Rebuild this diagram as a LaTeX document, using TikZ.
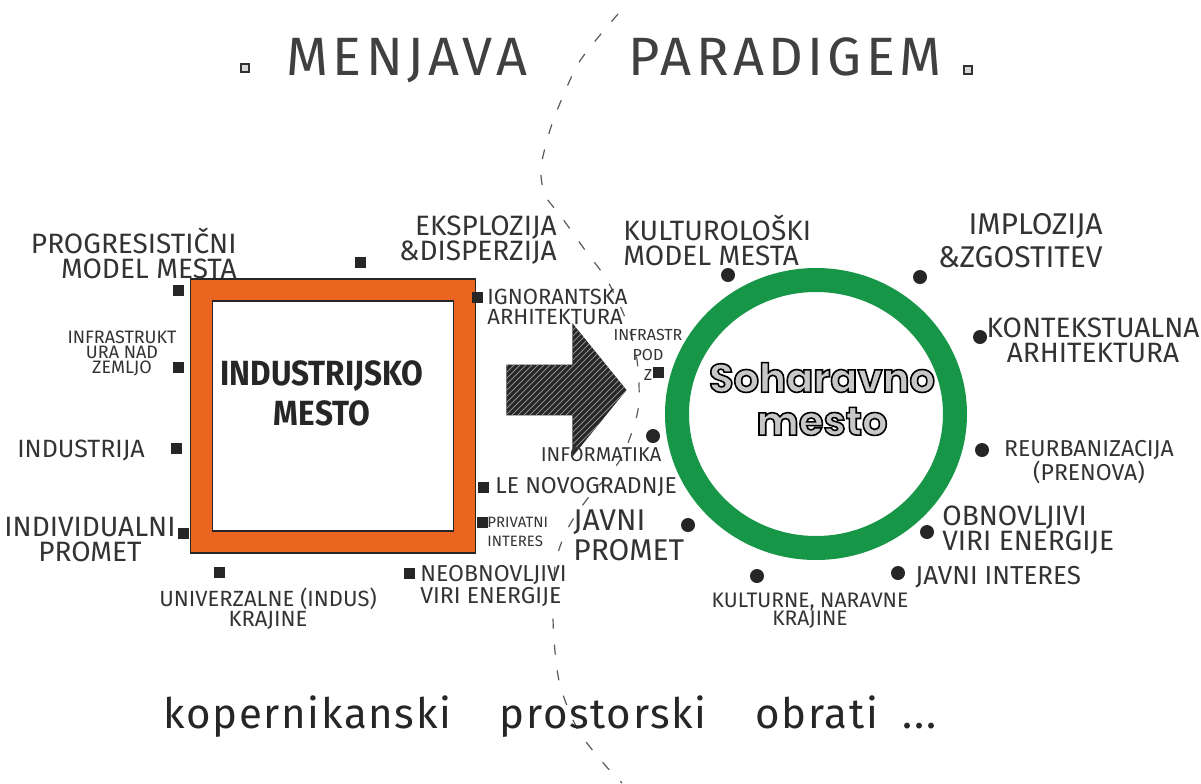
\documentclass[tikz,border=0pt]{standalone}
\usepackage{fontspec}
\setmainfont{Fira Sans}
\newfontfamily\titlefont[LetterSpace=8]{Fira Sans}
\newfontfamily\mottofont[LetterSpace=4]{Fira Sans}
\newfontfamily\indfont[FakeStretch=0.9]{Fira Sans}
\newfontfamily\roundfont{Poppins}
\usetikzlibrary{shapes.arrows,shapes.geometric,patterns}
\definecolor{boxorange}{RGB}{233,101,32}
\definecolor{ringgreen}{RGB}{24,150,72}
\tikzstyle{sqbul}=[fill=black!85, minimum size=5.5pt, inner sep=0pt]
\tikzstyle{dotbul}=[circle, fill=black!85, minimum size=7pt, inner sep=0pt]
\tikzstyle{ttlsq}=[draw=black!80, fill=black!15, line width=0.6pt,
	minimum size=4pt, inner sep=0pt]
\tikzstyle{lblL}=[inner sep=0pt, text=black!80, font=\fontsize{14}{12.5}\selectfont]
\tikzstyle{lblM}=[inner sep=0pt, text=black!80, font=\fontsize{11}{10}\selectfont]
\tikzstyle{lblS}=[inner sep=0pt, text=black!80, font=\fontsize{8}{8}\selectfont]
\tikzstyle{ttl}=[inner sep=0pt, anchor=base, text=black!75,
	font=\titlefont\fontsize{27}{27}\selectfont]
\tikzstyle{dashcurve}=[draw=black!65, line width=0.6pt, dash pattern=on 5pt off 8pt]
\tikzstyle{indframe}=[rectangle, draw=black!85, line width=0.6pt, double=boxorange,
	double distance=10.4pt, minimum width=131.75pt, minimum height=126pt, inner sep=0pt]
\tikzstyle{indtext}=[align=center, inner sep=0pt, text=black!85,
	font=\indfont\bfseries\fontsize{17.5}{20}\selectfont]
\tikzstyle{ring}=[ellipse, draw=ringgreen, line width=12pt, minimum width=139pt,
	minimum height=134pt, inner sep=0pt]
\tikzstyle{sontext}=[align=center, inner sep=0pt, text=black!22,
	font=\roundfont\bfseries\fontsize{20}{21.5}\selectfont]
\tikzstyle{bigarrow}=[single arrow, fill=black!85, inner xsep=0pt, inner ysep=12.5pt,
	minimum height=60pt, single arrow head extend=20.75pt, single arrow tip angle=102,
	postaction={pattern=north east lines, pattern color=black!45}]
\tikzstyle{motto}=[inner sep=0pt, anchor=base, text=black!85,
	font=\mottofont\fontsize{21}{21}\selectfont]
\newcommand{\sqAt}[2]{node (b#1) [sqbul] at #2 {}}
\newcommand{\dotAt}[2]{node (b#1) [dotbul] at #2 {}}
\newcommand{\outlinetext}[1]{\special{pdf:literal direct 2 Tr 0.8 w 0 G}#1%
	\special{pdf:literal direct 0 Tr}}

\begin{document}
\begin{tikzpicture}[x=0.5pt,y=-0.5pt]
	\useasboundingbox (0,0) rectangle (1201,783);

	% Dashed dividing line
	\draw[dashcurve] plot[smooth] coordinates {(618,14) (596,40) (578,64) (563,96)
		(550,130) (541,168) (545,195) (560,215) (585,250) (607,280) (626,320)
		(637,360) (638,410) (620,460) (588,498) (568,528) (556,560) (553,600)
		(554,640) (560,685) (578,730) (605,765) (622,783)};

	% Title
	\path node (t1) [ttl] at (407,75) {MENJAVA};
	\path node (t2) [ttl] at (785,75) {PARADIGEM};
	\path node (tq1) [ttlsq] at (245,68) {};
	\path node (tq2) [ttlsq] at (968,70) {};

	% Both cities and the arrow
	\path node (ind) [indframe] at (333,416) {};
	\path (ind)+(-11,-23) node (indt) [indtext] {INDUSTRIJSKO\\MESTO};
	\path node (son) [ring] at (816,414) {};
	\path (son)+(6,-15) node (sont) [sontext] {\outlinetext{Soharavno\\mesto}};
	\path node (arr) [bigarrow, anchor=tip] at (627,390) {};

	% Left bullets
	\path \sqAt{prog}{(178,290)};
	\path \sqAt{infra}{(178,367)};
	\path \sqAt{ind}{(176,448)};
	\path \sqAt{indiv}{(183,533)};
	\path \sqAt{univ}{(219,572)};
	\path \sqAt{eks}{(360,262)};
	\path \sqAt{ign}{(477,297)};
	\path \sqAt{novo}{(483,487)};
	\path \sqAt{priv}{(482,522)};
	\path \sqAt{neob}{(409,573)};

	\path (bprog)+(59,-37) node (lprog) [lblL, anchor=east, align=right]
		{PROGRESISTIČNI\\MODEL MESTA};
	\path (binfra)+(-56,-14) node (linfra) [lblS, align=center,
		font=\fontsize{9}{7.5}\selectfont] {INFRASTRUKT\\URA NAD\\ZEMLJO};
	\path (bind)+(-95,2) node (lind) [lblM, font=\fontsize{12.5}{12}\selectfont] {INDUSTRIJA};
	\path (bindiv)+(-93,7) node (lindiv) [lblL, align=center] {INDIVIDUALNI\\PROMET};
	\path (buniv)+(49,37) node (luniv) [lblM, align=center, font=\fontsize{11}{9}\selectfont]
		{UNIVERZALNE (INDUS)\\KRAJINE};
	\path (beks)+(197,-22) node (leks) [lblL, anchor=east, align=right]
		{EKSPLOZIJA\\\&DISPERZIJA};
	\path (bign)+(10,10) node (lign) [lblM, anchor=west, align=left]
		{IGNORANTSKA\\ARHITEKTURA};
	\path (bnovo)+(12,0) node (lnovo) [lblM, anchor=west, font=\fontsize{11.5}{11}\selectfont]
		{LE NOVOGRADNJE};
	\path (bpriv)+(5,10) node (lpriv) [lblS, anchor=west, align=left,
		font=\fontsize{7.5}{9.5}\selectfont] {PRIVATNI\\INTERES};
	\path (bneob)+(11,13) node (lneob) [lblM, anchor=west, align=left,
		font=\fontsize{11.5}{11}\selectfont] {NEOBNOVLJIVI\\VIRI ENERGIJE};

	% Right bullets
	\path \sqAt{infr}{(658,372)};
	\path \dotAt{info}{(653,436)};
	\path \dotAt{kult}{(728,275)};
	\path \dotAt{impl}{(920,277)};
	\path \dotAt{kont}{(980,337)};
	\path \dotAt{reur}{(982,450)};
	\path \dotAt{obn}{(927,532)};
	\path \dotAt{javi}{(898,573)};
	\path \dotAt{krn}{(757,576)};
	\path \dotAt{jprom}{(688,525)};

	\path (binfr)+(-10,-17) node (linfr) [lblS, align=center,
		font=\fontsize{8}{10}\selectfont] {INFRASTR\\POD\\Z};
	\path (binfo)+(-52,19) node (linfo) [lblM, font=\fontsize{10}{10}\selectfont] {INFORMATIKA};
	\path (bkult)+(-105,-35) node (lkult) [lblL, anchor=west, align=left]
		{KULTUROLOŠKI\\MODEL MESTA};
	\path (bimpl)+(183,-36) node (limpl) [lblL, anchor=east, align=right,
		font=\fontsize{15}{16.5}\selectfont] {IMPLOZIJA\\\&ZGOSTITEV};
	\path (bkont)+(113,3) node (lkont) [lblL, align=center] {KONTEKSTUALNA\\ARHITEKTURA};
	\path (breur)+(107,12) node (lreur) [lblM, align=center,
		font=\fontsize{11.5}{10.5}\selectfont] {REURBANIZACIJA\\(PRENOVA)};
	\path (bobn)+(15,-2) node (lobn) [lblL, anchor=west, align=left]
		{OBNOVLJIVI\\VIRI ENERGIJE};
	\path (bjavi)+(17,4) node (ljavi) [lblL, anchor=west, font=\fontsize{13}{13}\selectfont]
		{JAVNI INTERES};
	\path (bkrn)+(53,35) node (lkrn) [lblM, align=center, font=\fontsize{10.5}{9}\selectfont]
		{KULTURNE, NARAVNE\\KRAJINE};
	\path (bjprom)+(-115,10) node (ljprom) [lblL, anchor=west, align=left,
		font=\fontsize{15}{15}\selectfont] {JAVNI\\PROMET};

	% Closing line
	\path node (mot) [motto] at (550,728)
		{kopernikanski\hspace{18pt} prostorski\hspace{18pt} obrati\hspace{6pt} ...};
\end{tikzpicture}
\end{document}
